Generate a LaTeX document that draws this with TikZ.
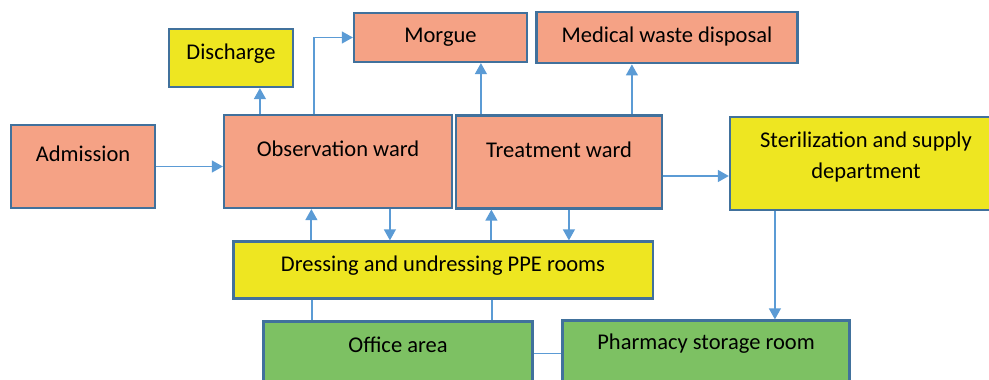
\documentclass[tikz,border=0pt]{standalone}
\usepackage{fontspec}
\setmainfont{Carlito}
\usetikzlibrary{arrows.meta}
\usetikzlibrary{calc}
\definecolor{salmon}{RGB}{245,162,133}
\definecolor{lemon}{RGB}{238,230,33}
\definecolor{leaf}{RGB}{125,193,99}
\definecolor{edgeblue}{RGB}{65,113,156}
\definecolor{lineblue}{RGB}{91,155,213}
\tikzstyle{arrow} = [line width=1.4pt,draw=lineblue,-{Triangle[length=7.8pt,width=8.3pt]}]
\tikzstyle{link} = [line width=1.4pt,draw=lineblue]
\tikzstyle{room} = [draw=edgeblue,line width=1.5pt,align=center,font=\fontsize{16}{22}\selectfont]
\tikzset{txt/.style={text height=11pt,text depth=#1}}

\begin{document}
\begin{tikzpicture}[x=0.025cm,y=-0.025cm]
\clip (0,0) rectangle (989,380);
% rooms
\node[room,fill=salmon,minimum width=3.6cm,minimum height=2.075cm,txt=17.4pt] (adm) at (83,166.5) {Admission};
\node[room,fill=lemon,minimum width=3.1cm,minimum height=1.45cm,txt=8.2pt] (dis) at (231,58) {Discharge};
\node[room,fill=salmon,minimum width=4.325cm,minimum height=1.225cm,txt=3.2pt] (mor) at (440.5,37.5) {Morgue};
\node[room,fill=salmon,minimum width=6.525cm,minimum height=1.275cm,txt=4.6pt] (med) at (667,37.8) {Medical waste disposal};
\node[room,fill=salmon,minimum width=5.7cm,minimum height=2.325cm,txt=17.4pt] (obs) at (338,161.5) {Observation ward};
\node[room,fill=salmon,minimum width=5.15cm,minimum height=2.325cm,txt=18.1pt] (trt) at (559,162) {Treatment ward};
\node[room,fill=lemon,minimum width=6.8cm,minimum height=2.325cm] (ster) at (866,163.5) {Sterilization and supply\\department\rule[-12.4pt]{0pt}{0pt}};
\node[room,fill=lemon,minimum width=10.475cm,minimum height=1.425cm,txt=8.6pt] (ppe) at (443,270) {Dressing and undressing PPE rooms};
\node[room,fill=leaf,minimum width=6.725cm,minimum height=1.6cm,txt=12.1pt] (off) at (398,353.5) {Office area};
\node[room,fill=leaf,minimum width=7.175cm,minimum height=1.65cm,txt=16pt] (pha) at (706,353.5) {Pharmacy storage room};

% connector feet
\coordinate (od) at ($(obs.north west)+(37,0)$);
\coordinate (om) at ($(obs.north west)+(91,0)$);
\coordinate (tm) at ($(trt.north west)+(26,0)$);
\coordinate (tw) at ($(trt.north west)+(177,0)$);
\coordinate (ts) at ($(trt.east)+(0,14)$);
\coordinate (po) at ($(ppe.north west)+(79,0)$);
\coordinate (op) at ($(obs.south west)+(167,0)$);
\coordinate (pt) at ($(ppe.north west)+(259,0)$);
\coordinate (tp) at ($(trt.south west)+(114,0)$);
\coordinate (f1) at ($(off.north west)+(50,0)$);
\coordinate (f2) at ($(off.north west)+(230,0)$);
\coordinate (sp) at ($(ster.south west)+(46,0)$);

% arrows
\draw[arrow] (adm.east) -- (adm.east -| obs.west);
\draw[arrow] (om) |- (mor.west);
\draw[arrow] (ts) -- (ts -| ster.west);
\foreach \a/\b in {od/dis.south,tm/mor.south,tw/med.south,po/obs.south,op/ppe.north,pt/trt.south,tp/ppe.north,sp/pha.north}{
	\draw[arrow] (\a) -- (\a |- \b);
}
\foreach \a in {f1,f2}{
	\draw[link] (\a) -- (\a |- ppe.south);
}
\draw[link] (off.east) -- (pha.west);
\end{tikzpicture}
\end{document}
